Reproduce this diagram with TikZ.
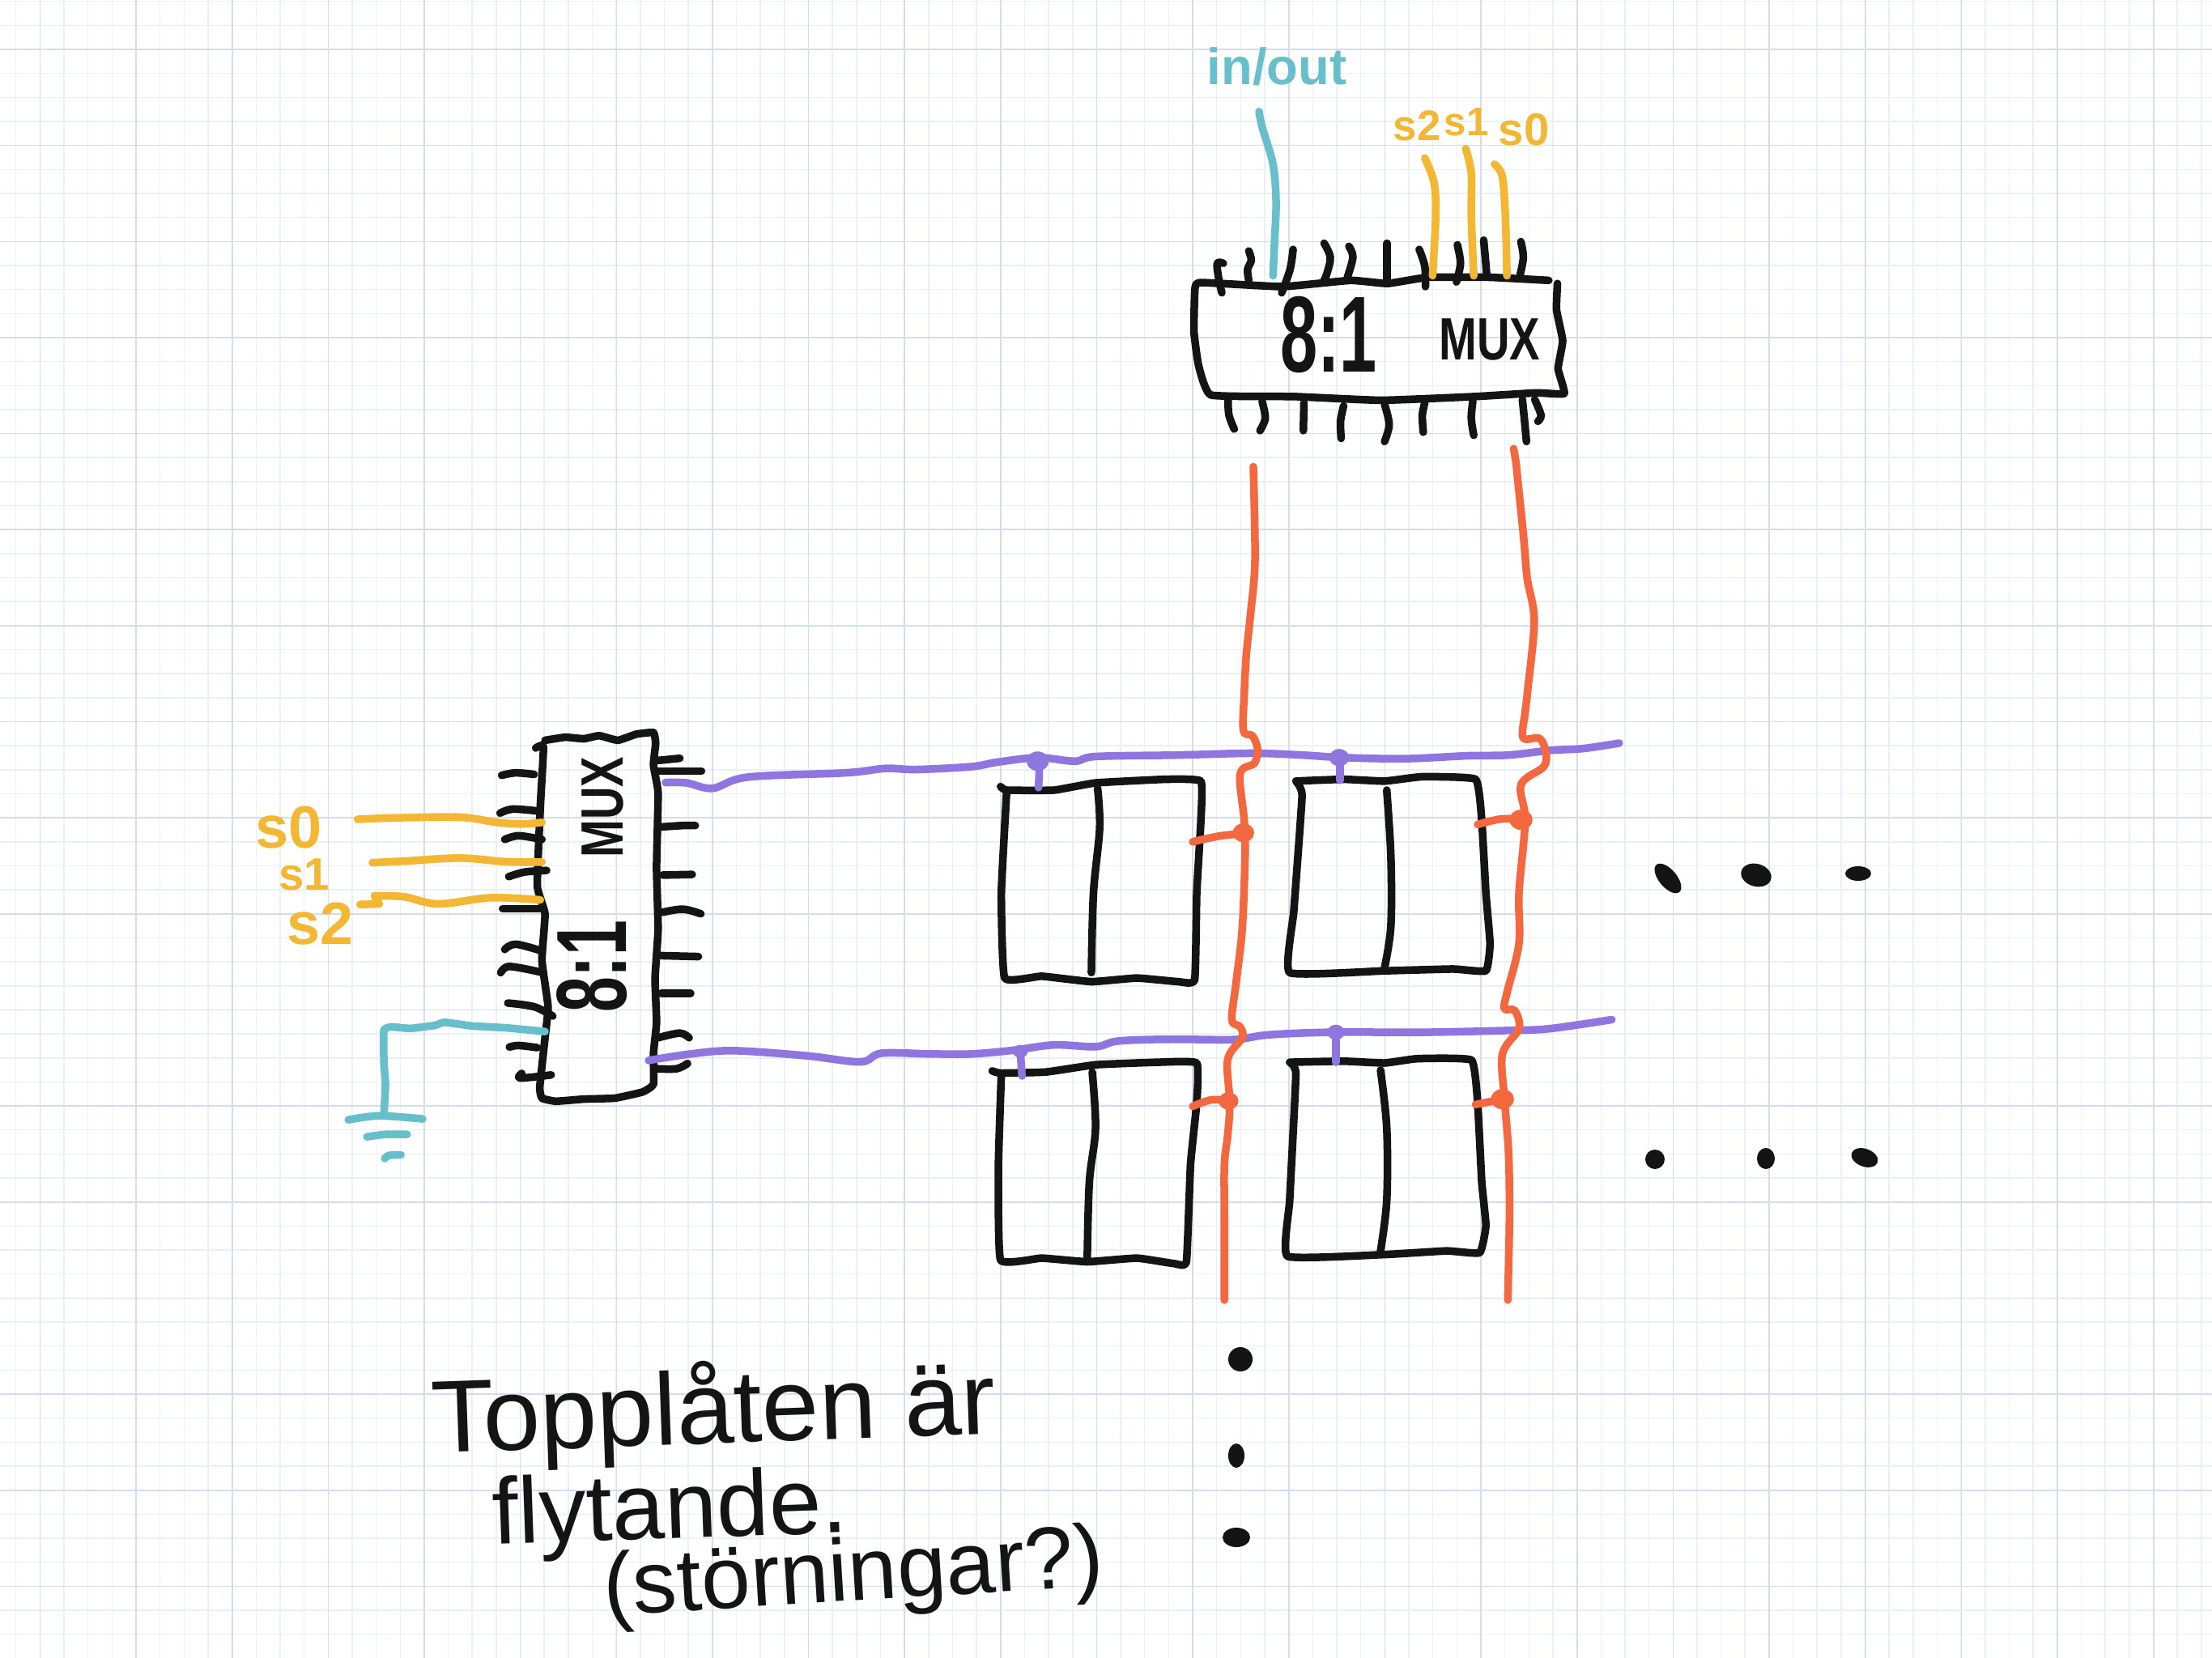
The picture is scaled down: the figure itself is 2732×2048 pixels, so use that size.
\documentclass[tikz,border=0pt]{standalone}
\usepackage{fontspec}
\setmainfont{Liberation Sans}
\definecolor{inkc}{HTML}{141414}
\definecolor{tealc}{HTML}{68BFCC}
\definecolor{yellowc}{HTML}{F3B733}
\definecolor{purplec}{HTML}{8F75E0}
\definecolor{orangec}{HTML}{F4683F}
\definecolor{gridmajor}{HTML}{D2DEEE}
\definecolor{gridminor}{HTML}{EAF0F8}
\tikzset{
  stroke/.style={line width=0.095cm,line cap=round,line join=round},
  ink/.style={stroke,draw=inkc},
  teal/.style={stroke,draw=tealc},
  gold/.style={stroke,draw=yellowc},
  violet/.style={stroke,draw=purplec},
  coral/.style={stroke,draw=orangec},
  zoomA/.style={shift={(1400,0)},scale=0.3827},
  zoomB/.style={shift={(300,880)},scale=0.3827},
  zoomC/.style={shift={(1200,880)},xscale=0.5102,yscale=0.4464},
  handtext/.style={inner sep=0pt,text=inkc},
  goldtext/.style={inner sep=0pt,text=yellowc,font=\bfseries},
}
\newcommand{\penline}[2]{\draw[#1] plot[smooth,tension=.55] coordinates {#2};}
\newcommand{\penbox}[2]{\draw[#1] plot[smooth,tension=.22] coordinates {#2};}
\newcommand{\fsz}[1]{\fontsize{#1}{#1}\selectfont}
\begin{document}
\begin{tikzpicture}[x=0.01cm,y=-0.01cm]
\useasboundingbox (0,0) rectangle (2732,2048);
\fill[white] (0,0) rectangle (2732,2048);
% paper grid
\begin{scope}
\clip (0,0) rectangle (2732,2048);
\foreach \k in {0,...,92} \draw[gridminor,line width=0.015cm] ({19.7+29.66*\k},0) -- ({19.7+29.66*\k},2048);
\foreach \k in {0,...,69} \draw[gridminor,line width=0.015cm] (0,{1.7+29.66*\k}) -- (2732,{1.7+29.66*\k});
\foreach \k in {0,...,22} \draw[gridmajor,line width=0.016cm] ({49.4+118.65*\k},0) -- ({49.4+118.65*\k},2048);
\foreach \k in {0,...,17} \draw[gridmajor,line width=0.016cm] (0,{61+118.65*\k}) -- (2732,{61+118.65*\k});
\end{scope}

% top multiplexer
\begin{scope}[zoomA]
\penbox{ink}{(1340,905) (1150,895) (950,895) (820,915) (700,905) (480,925) (215,912) (198,935) (195,1070) (210,1180) (250,1275) (520,1280) (800,1292) (1100,1280) (1300,1268) (1390,1270) (1370,1190) (1385,1100) (1365,1000) (1368,915)}
\penline{ink}{(290,850) (270,850) (275,900) (285,945)}
\penline{ink}{(372,810) (380,840) (368,870) (372,905)}
\penline{ink}{(515,805) (505,870) (478,945)}
\penline{ink}{(615,785) (635,830) (625,880) (615,905)}
\penline{ink}{(695,795) (708,830) (690,895)}
\penline{ink}{(818,785) (818,905)}
\penline{ink}{(922,805) (940,860) (942,925)}
\penline{ink}{(1045,790) (1055,850) (1042,910)}
\penline{ink}{(1130,775) (1135,830) (1140,890)}
\penline{ink}{(1250,780) (1258,830) (1248,885)}
\penline{ink}{(305,1290) (308,1340) (325,1385)}
\penline{ink}{(415,1295) (425,1350) (408,1390)}
\penline{ink}{(550,1300) (548,1390)}
\penline{ink}{(678,1310) (668,1360) (670,1415)}
\penline{ink}{(810,1305) (825,1370) (810,1425)}
\penline{ink}{(940,1300) (932,1340) (935,1395)}
\penline{ink}{(1095,1295) (1090,1350) (1098,1405)}
\penline{ink}{(1255,1290) (1262,1360) (1268,1425)}
\penline{ink}{(1295,1290) (1315,1340) (1305,1360)}
\penline{teal}{(405,360) (415,410) (450,530) (460,650) (455,780) (450,890)}
\penline{gold}{(940,510) (970,590) (975,700) (965,890)}
\penline{gold}{(1072,480) (1090,560) (1090,700) (1098,890)}
\penline{gold}{(1165,530) (1190,570) (1200,700) (1205,890)}
\end{scope}
\node[handtext,font=\bfseries,xscale=.62,transform shape] (ratioTop) at (1641,413) {\fsz{38}8:1};
\node[handtext,font=\bfseries,xscale=.76,transform shape] (muxTop) at (1840,419) {\fsz{21}MUX};
\node[inner sep=0pt,text=tealc,font=\bfseries] (inout) at (1577,82) {\fsz{18}in/out};
\node[goldtext] (topS2) at (1750,155) {\fsz{15}s2};
\node[goldtext] (topS1) at (1811,151) {\fsz{14}s1};
\node[goldtext] (topS0) at (1882,160) {\fsz{16}s0};

% left multiplexer
\begin{scope}[zoomB]
\penbox{ink}{(975,90) (1040,80) (1100,85) (1150,75) (1210,90) (1270,70) (1325,65) (1332,100) (1325,170) (1340,260) (1335,500) (1340,700) (1330,860) (1335,1000) (1325,1100) (1325,1200) (1290,1225) (1200,1245) (1100,1248) (1010,1255) (965,1245) (958,1210) (975,1050) (985,950) (965,800) (975,650) (950,560) (960,300) (970,110) (945,115)}
\penline{ink}{(835,203) (880,195) (940,200)}
\penline{ink}{(830,325) (870,312) (950,318)}
\penline{ink}{(845,410) (890,398) (965,410)}
\penline{ink}{(858,530) (910,515) (980,510)}
\penline{ink}{(838,633) (960,633)}
\penline{ink}{(845,765) (880,748) (965,770)}
\penline{ink}{(832,840) (860,820) (960,838)}
\penline{ink}{(855,938) (940,950) (1000,980)}
\penline{ink}{(860,1080) (890,1075) (950,1082)}
\penline{ink}{(900,1165) (895,1180) (995,1170)}
\penline{ink}{(1340,155) (1410,148)}
\penline{ink}{(1340,190) (1400,190) (1480,190)}
\penline{ink}{(1345,370) (1420,365) (1460,365)}
\penline{ink}{(1355,525) (1450,523)}
\penline{ink}{(1355,645) (1420,635) (1478,650)}
\penline{ink}{(1350,785) (1470,788)}
\penline{ink}{(1350,907) (1445,907)}
\penline{ink}{(1340,1050) (1410,1035) (1440,1050)}
\penline{ink}{(1335,1150) (1400,1150) (1435,1133)}
\penline{gold}{(370,345) (500,340) (700,338) (820,355) (900,360) (965,355)}
\penline{gold}{(418,485) (520,480) (700,470) (850,482) (965,483)}
\draw[gold] (378,620) -- (440,618) -- (425,592);
\penline{gold}{(425,592) (520,595) (630,618) (800,598) (960,605)}
\penbox{teal}{(975,1030) (850,1018) (740,1012) (650,1000) (620,1010) (540,1020) (480,1015) (455,1025) (455,1130) (460,1200) (455,1300)}
\penline{teal}{(340,1315) (440,1302) (580,1312)}
\penline{teal}{(400,1370) (460,1362) (530,1362)}
\penline{teal}{(458,1440) (470,1430) (510,1428)}
\end{scope}
\node[handtext,font=\bfseries,rotate=90,xscale=.76,transform shape] (muxLeft) at (744,997) {\fsz{21}MUX};
\node[handtext,font=\bfseries,rotate=90,xscale=.64,transform shape] (ratioLeft) at (731,1194) {\fsz{35}8:1};
\node[goldtext] (leftS0) at (357,1022) {\fsz{21}s0};
\node[goldtext] (leftS1) at (376,1080) {\fsz{16}s1};
\node[goldtext] (leftS2) at (396,1141) {\fsz{21}s2};

% memory cells, word lines and bit lines
\begin{scope}[zoomC]
\penbox{ink}{(70,205) (85,215) (200,215) (300,195) (470,185) (555,190) (555,300) (545,500) (540,740) (500,745) (400,735) (290,745) (170,730) (80,735) (72,500) (85,215)}
\penline{ink}{(305,210) (310,320) (295,500) (290,720)}
\penbox{ink}{(785,190) (900,185) (1000,190) (1090,178) (1220,185) (1235,300) (1245,500) (1255,640) (1245,715) (1165,710) (1000,715) (770,720) (780,550) (800,230) (785,190)}
\penline{ink}{(1005,215) (1015,400) (1015,590) (1000,705)}
\penbox{ink}{(50,992) (70,998) (180,995) (300,975) (450,968) (545,970) (545,1080) (530,1250) (520,1520) (490,1525) (400,1510) (280,1520) (170,1510) (70,1515) (65,1250) (72,1000)}
\penline{ink}{(292,995) (300,1150) (285,1300) (280,1510)}
\penbox{ink}{(770,968) (900,965) (1000,970) (1080,958) (1210,962) (1225,1080) (1235,1300) (1245,1420) (1230,1495) (1150,1490) (1000,1500) (765,1505) (770,1350) (785,1000) (770,968)}
\penline{ink}{(990,990) (1005,1150) (1005,1350) (990,1490)}
% word lines
\penline{violet}{(-741,194) (-690,195) (-627,210) (-542,179) (-303,167) (-208,155) (-133,158) (0,150) (60,138) (160,125) (250,135) (300,122) (500,118) (680,113) (800,118) (900,125) (1050,128) (1200,120) (1300,118) (1400,105) (1480,100) (1568,85)}
\penline{violet}{(-782,963) (-680,945) (-576,936) (-400,950) (-269,967) (-218,943) (-100,945) (0,945) (100,935) (200,920) (300,925) (350,910) (440,905) (550,905) (640,905) (720,892) (870,885) (1100,885) (1300,880) (1400,875) (1550,850)}
\fill[purplec] (160,135) circle (27);
\draw[violet] (165,135) -- (162,208);
\fill[purplec] (890,125) circle (24);
\draw[violet] (892,125) -- (892,188);
\fill[purplec] (118,938) circle (18);
\draw[violet] (118,940) -- (122,1006);
\fill[purplec] (882,885) circle (21);
\draw[violet] (882,885) -- (882,968);
% bit lines
\penline{coral}{(682,-680) (686,-420) (675,-270) (665,-160) (660,-50) (658,50) (680,65) (692,100) (685,140) (650,170) (660,300) (662,400) (655,600) (640,750) (630,850) (650,870) (655,900) (620,960) (625,1080) (620,1170) (612,1250) (612,1400) (612,1626)}
\penline{coral}{(1312,-730) (1318,-690) (1322,-644) (1336,-488) (1345,-371) (1362,-254) (1346,-60) (1340,0) (1335,70) (1375,72) (1390,110) (1385,150) (1330,200) (1340,300) (1325,500) (1325,640) (1295,780) (1290,820) (1315,825) (1325,875) (1285,945) (1290,1070) (1300,1220) (1302,1400) (1298,1626)}
\penline{coral}{(535,358) (600,342) (660,335)}
\fill[orangec] (658,333) circle (26);
\penline{coral}{(1225,310) (1280,295) (1330,295)}
\fill[orangec] (1330,297) circle (28);
\penline{coral}{(535,1090) (580,1072) (625,1075)}
\fill[orangec] (622,1075) circle (24);
\penline{coral}{(1220,1085) (1285,1070)}
\fill[orangec] (1285,1070) circle (28);
\end{scope}

% continuation dots
\fill[inkc,rotate around={-50:(2060,1085)}] (2060,1085) ellipse [x radius=22,y radius=11];
\fill[inkc,rotate around={-15:(2169,1081)}] (2169,1081) ellipse [x radius=19,y radius=14];
\fill[inkc] (2295,1079) ellipse [x radius=16,y radius=9];
\fill[inkc] (2044,1432) circle (12);
\fill[inkc] (2181,1431) ellipse [x radius=11,y radius=13];
\fill[inkc,rotate around={-20:(2303,1430)}] (2303,1430) ellipse [x radius=17,y radius=11];
\fill[inkc] (1532,1679) circle (15);
\fill[inkc] (1527,1798) ellipse [x radius=10,y radius=15];
\fill[inkc] (1527,1899) ellipse [x radius=17,y radius=12];

% handwritten note
\node[handtext,anchor=base west,rotate=2] (noteA) at (534,1795) {\fsz{36}Topplåten är};
\node[handtext,anchor=base west,rotate=2] (noteB) at (609,1908) {\fsz{33}f\kern0pt lytande.};
\node[handtext,anchor=base west,rotate=3.5] (noteC) at (747,1996) {\fsz{31}(störningar?)};
\end{tikzpicture}
\end{document}
